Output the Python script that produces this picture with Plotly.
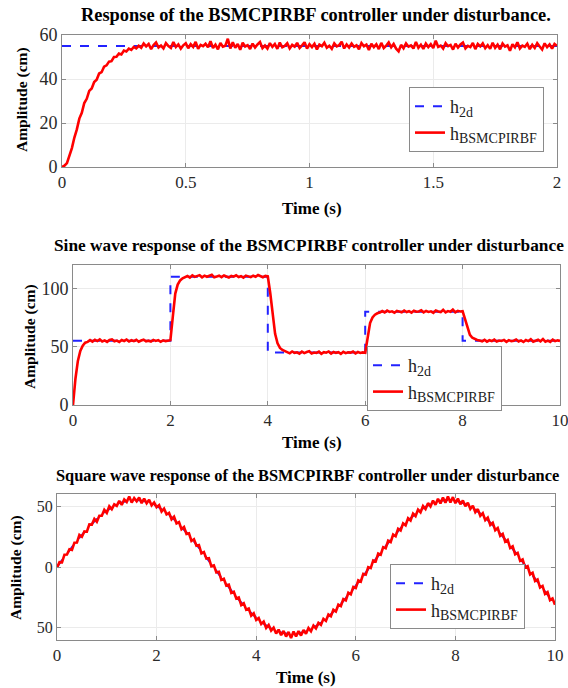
import numpy as np
import plotly.graph_objects as go

# ---------------- data ----------------
# Panel 1: step response, t = 0..2 s (0.01 s sampling)
t1 = np.linspace(0, 2, 201)
ref1_t = [0, 2]
ref1_v = [55, 55]
resp1 = [
    0.0, 0.6, 1.8, 5.3, 8.6, 13.4, 17.1, 22.0, 24.6, 29.1, 31.0, 34.6, 35.7, 38.6, 39.7, 42.5,
    43.1, 45.6, 46.2, 47.9, 48.1, 50.0, 50.1, 51.6, 51.2, 52.9, 52.5, 53.8, 53.2, 54.6, 53.9, 55.1,
    54.2, 56.1, 54.8, 55.9, 53.6, 55.4, 56.6, 54.3, 55.2, 53.9, 56.3, 55.0, 54.1,
    56.8, 54.5, 55.7, 53.8, 55.3, 56.2, 54.0, 55.8, 54.6, 56.9, 53.7, 55.5, 54.9,
    56.0, 54.4, 57.2, 54.1, 55.6, 53.5, 56.4, 54.7, 55.1, 58.3, 53.9, 56.7, 54.2,
    55.9, 53.3, 56.5, 54.8, 55.4, 53.6, 56.1, 54.3, 55.7, 56.8, 54.0, 55.2, 53.8,
    56.3, 54.6, 55.9, 53.7, 56.6, 54.4, 55.0, 56.2, 53.9, 55.5, 54.7, 56.4, 54.1,
    55.3, 56.7, 53.8, 55.8, 54.5, 56.0, 53.4, 55.6, 54.9, 56.5, 54.2, 55.1, 53.7,
    56.2, 54.8, 55.4, 56.9, 53.9, 55.7, 54.3, 56.1, 54.6, 55.3, 53.5, 56.3, 54.9,
    55.6, 53.2, 56.0, 54.5, 55.8, 53.6, 56.4, 54.1, 55.2, 56.6, 54.4, 55.9, 53.8,
    52.6, 55.5, 54.0, 56.2, 54.7, 55.3, 53.9, 56.8, 54.2, 55.6, 53.7, 56.1, 54.5,
    55.8, 54.1, 57.4, 54.6, 55.2, 53.8, 56.3, 54.9, 55.5, 53.4, 56.0, 54.3, 55.7,
    56.6, 53.9, 55.1, 54.5, 56.4, 53.6, 55.9, 54.8, 56.2, 54.0, 55.4, 53.7, 56.5,
    54.2, 55.6, 53.5, 56.1, 54.7, 55.3, 52.8, 55.8, 54.4, 56.7, 53.9, 55.2, 54.6,
    56.0, 53.6, 55.5, 54.1, 56.3, 54.8, 53.4, 56.2, 54.5, 55.7, 53.8, 55.9, 55.1,
]

# Panel 2: step-sequence reference, t = 0..10 s (0.05 s sampling)
t2 = np.linspace(0, 10, 201)
ref2_t = [0, 2, 2, 4, 4, 6, 6, 8, 8, 10]
ref2_v = [55, 55, 110, 110, 45, 45, 80, 80, 55, 55]
resp2 = [
    0.0, 22.5, 37.8, 46.3, 50.9, 53.4, 54.1,
    55.6, 54.3, 55.9, 54.8, 56.2, 54.5, 55.4, 54.1, 55.8, 56.3, 54.6, 55.2, 54.0, 55.7, 54.9,
    56.1, 54.4, 55.5, 54.7, 55.9, 54.2, 55.3, 56.0, 54.6, 55.1, 54.3, 55.8, 54.9, 55.6, 54.2,
    55.4, 54.8, 55.2,
    55.5,
    76.0, 95.5, 103.2, 106.8, 108.6, 109.3,
    110.6, 109.2, 111.1, 109.8, 110.4, 111.3, 109.5, 110.9, 109.9, 110.5, 111.6, 109.4, 110.2,
    110.8, 109.6, 111.0, 110.1, 109.3, 110.7, 110.0, 111.2, 109.7, 110.4, 109.1, 110.9, 110.3,
    109.6, 110.8, 109.9, 111.4, 110.1, 109.5, 110.6,
    110.2,
    96.0, 76.5, 61.0, 52.8, 48.9, 47.2, 46.1,
    45.6, 44.3, 45.9, 44.7, 45.2, 44.0, 45.8, 44.5, 45.4, 46.1, 44.2, 45.0, 44.6, 45.7, 43.9,
    45.3, 44.8, 45.9, 44.1, 45.5, 44.7, 45.2, 43.8, 45.6, 44.4, 45.1, 44.9, 45.8, 44.2, 45.4,
    44.6, 45.1,
    44.8,
    58.5, 70.2, 75.1, 77.4, 78.6, 79.2,
    80.5, 79.3, 80.9, 79.8, 80.3, 79.1, 80.7, 80.0, 79.5, 81.0, 79.7, 80.4, 79.2, 80.8, 79.9,
    80.2, 81.1, 79.4, 80.6, 79.8, 80.3, 79.0, 80.9, 80.1, 79.6, 81.5, 79.3, 80.5, 79.9, 81.8,
    79.4, 80.7, 80.2,
    80.4,
    73.5, 65.0, 60.2, 57.6, 56.4, 55.7,
    55.2, 54.6, 55.9, 54.3, 55.5, 54.8, 56.0, 54.4, 55.3, 54.9, 55.8, 54.1, 55.6, 54.7, 55.1,
    56.2, 54.5, 55.4, 54.0, 55.7, 54.8, 56.3, 54.2, 55.0, 55.9, 54.6, 56.5, 54.3, 55.2, 54.1,
    56.1, 54.7, 55.4, 54.9,
]

# Panel 3: sinusoidal reference, t = 0..10 s
t3_ref = np.linspace(0, 10, 51)
ref3_v = [
    0.0, 10.93, 21.42, 31.06, 39.45, 46.28, 51.26, 54.20, 54.98, 53.56, 50.01, 44.47, 37.15,
    28.35, 18.42, 7.76, -3.21, -14.05, -24.34, -33.65, -41.62, -47.94, -52.34, -54.65, -54.79,
    -52.74, -48.59, -42.50, -34.72, -25.55, -15.37, -4.57, 6.41, 17.13, 27.18, 36.13, 43.65,
    49.43, 53.23, 54.91, 54.41, 51.78, 47.00, 40.39, 32.17, 22.67, 12.26, 1.36, -9.59, -20.16,
    -29.92,
]
t3 = np.linspace(0, 10, 201)
resp3 = [
    -0.5, 4.0, 3.8, 10.1, 10.2, 14.6, 14.1, 20.0, 20.1, 26.4, 24.9, 29.2, 29.0, 35.0, 34.9, 39.5,
    37.1, 42.1, 42.1, 47.0, 44.5, 49.9, 47.5, 51.5, 50.2, 54.4, 51.1, 55.5, 53.4, 58.0, 52.9, 56.6,
    54.0, 57.1, 52.5, 56.2, 52.4, 55.3, 50.6, 53.0, 49.2, 50.9, 45.6, 47.9, 43.3, 44.5, 39.2, 41.4,
    35.8, 36.9, 31.0, 32.8, 27.1, 27.6, 21.4, 22.8, 17.5, 18.0, 11.2, 12.3, 6.9, 7.2, 0.6, 1.3,
    -4.5, -3.9, -10.6, -9.6, -15.2, -14.5, -21.3, -20.4, -25.9, -25.0, -31.3, -29.8, -35.1, -34.2,
    -40.0, -38.1, -43.5, -42.0, -46.9, -44.8, -50.1, -47.6, -52.3, -49.9, -54.6, -51.5, -56.0,
    -52.6, -57.2, -53.4, -58.3, -53.1, -57.0, -52.7, -56.3, -51.8, -54.9, -50.2, -52.8, -48.1,
    -50.4, -45.9, -47.6, -42.6, -44.3, -39.0, -40.5, -35.2, -36.6, -31.0, -32.1, -26.3, -27.4,
    -21.2, -22.5, -16.4, -17.3, -11.0, -12.0, -5.6, -6.3, -0.1, -0.9, 5.4, 4.6, 11.0, 10.1, 16.3,
    15.4, 21.6, 20.5, 26.7, 25.3, 31.4, 30.0, 35.9, 34.3, 40.1, 38.2, 43.9, 41.8, 47.2, 45.0, 50.1,
    47.6, 52.5, 49.8, 54.6, 51.2, 56.0, 52.3, 57.1, 52.8, 57.9, 53.0, 57.4, 52.4, 56.2, 51.5, 54.7,
    49.9, 52.8, 47.8, 50.4, 45.1, 47.6, 42.0, 44.2, 38.5, 40.6, 34.5, 36.4, 30.2, 32.0, 25.6, 27.2,
    20.8, 22.3, 15.6, 17.0, 10.4, 11.6, 5.0, 6.2, -0.5, 0.6, -6.1, -4.8, -11.5, -10.2, -16.9,
    -15.6, -22.1, -20.7, -27.2, -25.8, -31.0,
]

titles = [
    "Response of the BSMCPIRBF controller under disturbance.",
    "Sine wave response of the BSMCPIRBF controller under disturbance",
    "Square wave response of the BSMCPIRBF controller under disturbance",
]
x_tickvals = [[0, 0.5, 1, 1.5, 2], [0, 2, 4, 6, 8, 10], [0, 2, 4, 6, 8, 10]]
x_ticktext = [["0", "0.5", "1", "1.5", "2"], ["0", "2", "4", "6", "8", "10"], ["0", "2", "4", "6", "8", "10"]]
y_tickvals = [[0, 20, 40, 60], [0, 50, 100], [-50, 0, 50]]
y_ticktext = [["0", "20", "40", "60"], ["0", "50", "100"], ["50", "0", "50"]]
legend_ref = "h<sub><span style='font-size:14px'>2d</span></sub>"
legend_resp = "h<sub><span style='font-size:14px'>BSMCPIRBF</span></sub>"

# ---------------- figure ----------------
W, H = 568, 688
SERIF = "Liberation Serif"
BLUE = "#2222ff"
RED = "#ff0000"

def px_x(p):
    return p / W

def px_y(p):
    return 1 - p / H

fig = go.Figure()
series = [
    (ref1_t, ref1_v, t1, resp1),
    (ref2_t, ref2_v, t2, resp2),
    (t3_ref, ref3_v, t3, resp3),
]
legend_names = ["legend", "legend2", "legend3"]
for i, (rt, rv, tt, rr) in enumerate(series):
    xa = "x" if i == 0 else f"x{i+1}"
    ya = "y" if i == 0 else f"y{i+1}"
    fig.add_trace(go.Scatter(x=rt, y=rv, mode="lines", name=legend_ref, xaxis=xa, yaxis=ya,
                             line=dict(color=BLUE, width=2, dash="dash"), legend=legend_names[i],
                             line_shape="spline" if i == 2 else "linear"))
    fig.add_trace(go.Scatter(x=tt, y=rr, mode="lines", name=legend_resp, xaxis=xa, yaxis=ya,
                             line=dict(color=RED, width=2.6), legend=legend_names[i]))

# plot area pixel boxes: (left, right, top, bottom)
boxes = [(62, 557, 35, 167), (73, 560, 265, 405), (57, 555, 494, 640)]
x_ranges = [[0, 2], [0, 10], [0, 10]]
y_ranges = [[0, 60], [0, 120], [-60, 60]]
y_tick_sizes = [18, 18, 16]

axis_common = dict(
    showline=True, mirror="ticks", linecolor="#8a8a8a", linewidth=1,
    ticks="inside", ticklen=4, tickcolor="#8a8a8a", automargin=False,
    showgrid=True, gridcolor="#ebebeb", gridwidth=1, zeroline=False,
    ticklabeloverflow="allow",
)
layout_axes = {}
for i, (l, r, t, b) in enumerate(boxes):
    xk = "xaxis" if i == 0 else f"xaxis{i+1}"
    yk = "yaxis" if i == 0 else f"yaxis{i+1}"
    ya = "y" if i == 0 else f"y{i+1}"
    xa = "x" if i == 0 else f"x{i+1}"
    layout_axes[xk] = dict(axis_common, domain=[px_x(l), px_x(r)], anchor=ya, range=x_ranges[i],
                           tickvals=x_tickvals[i], ticktext=x_ticktext[i],
                           tickfont=dict(family=SERIF, size=17, color="#2a2a2a"))
    layout_axes[yk] = dict(axis_common, domain=[px_y(b), px_y(t)], anchor=xa, range=y_ranges[i],
                           tickvals=y_tickvals[i], ticktext=y_ticktext[i],
                           tickfont=dict(family=SERIF, size=y_tick_sizes[i], color="#2a2a2a"))

legend_common = dict(
    bgcolor="white", bordercolor="#8a8a8a", borderwidth=1,
    font=dict(family=SERIF, size=18, color="#222222"),
    xanchor="left", yanchor="top", itemwidth=30, tracegroupgap=0,
)
legend_pos = [(409, 87), (367, 346), (390, 564)]

annotations = []
title_pos = [(316, 15), (309, 246), (307, 475)]
title_sizes = [18.4, 17.3, 16.4]
xt_pos = [(312, 208), (312, 442), (306, 677)]
yt_pos = [(22, 100), (30, 337), (16, 568)]
for i in range(3):
    annotations.append(dict(text=f"<b>{titles[i]}</b>", x=px_x(title_pos[i][0]), y=px_y(title_pos[i][1]),
                            xref="paper", yref="paper", showarrow=False, xanchor="center", yanchor="middle",
                            font=dict(family=SERIF, size=title_sizes[i], color="black")))
    annotations.append(dict(text="<b>Time (s)</b>", x=px_x(xt_pos[i][0]), y=px_y(xt_pos[i][1]),
                            xref="paper", yref="paper", showarrow=False, xanchor="center", yanchor="middle",
                            font=dict(family=SERIF, size=17, color="black")))
    annotations.append(dict(text="<b>Amplitude (cm)</b>", x=px_x(yt_pos[i][0]), y=px_y(yt_pos[i][1]),
                            xref="paper", yref="paper", showarrow=False, xanchor="center", yanchor="middle",
                            textangle=-90, font=dict(family=SERIF, size=15.5, color="black")))

fig.update_layout(
    width=W, height=H, margin=dict(l=0, r=0, t=0, b=0, autoexpand=False),
    paper_bgcolor="white", plot_bgcolor="white", showlegend=True,
    annotations=annotations,
    legend=dict(legend_common, x=px_x(legend_pos[0][0]), y=px_y(legend_pos[0][1])),
    legend2=dict(legend_common, x=px_x(legend_pos[1][0]), y=px_y(legend_pos[1][1])),
    legend3=dict(legend_common, x=px_x(legend_pos[2][0]), y=px_y(legend_pos[2][1])),
    **layout_axes,
)

fig.write_html(
    "out.html",
    config={"displayModeBar": False},
    post_script="document.body.style.margin='0';document.body.style.overflow='hidden';",
)
